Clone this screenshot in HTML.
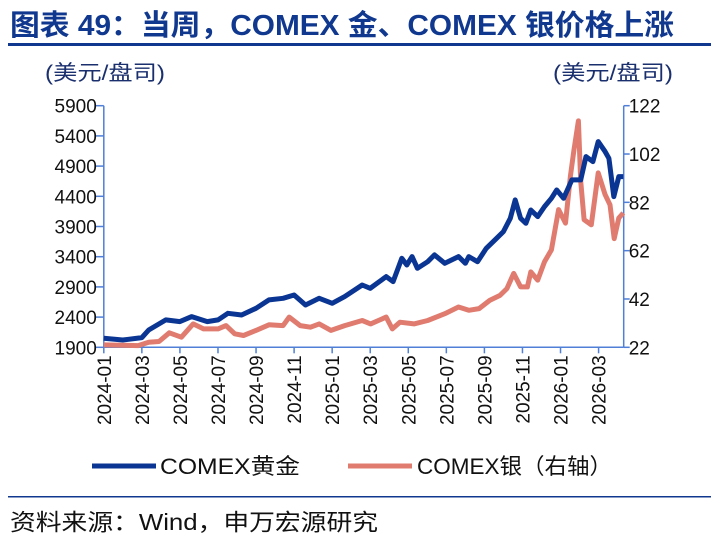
<!DOCTYPE html>
<html><head><meta charset="utf-8"><style>
body{margin:0;background:#fff;}
svg{display:block;font-family:"Liberation Sans","Noto Sans CJK SC",sans-serif;}
</style></head><body>
<svg id="c" width="720" height="541">
<text x="10" y="35" font-size="29" font-weight="bold" fill="#10388f" textLength="664" lengthAdjust="spacingAndGlyphs">图表 49：当周，COMEX 金、COMEX 银价格上涨</text>
<rect x="8" y="43" width="703" height="3" fill="#10388f"/>
<text x="45" y="80" font-size="21" fill="#1a2f6e" textLength="120" lengthAdjust="spacingAndGlyphs">(美元/盘司)</text>
<text x="553" y="80" font-size="21" fill="#1a2f6e" textLength="120" lengthAdjust="spacingAndGlyphs">(美元/盘司)</text>
<g id="axes"></g>
<g id="series"></g>
<g>
<line x1="92" y1="466" x2="156" y2="466" stroke="#0b3593" stroke-width="5"/>
<text x="160" y="474" font-size="22" fill="#111" textLength="140" lengthAdjust="spacingAndGlyphs">COMEX黄金</text>
<line x1="348" y1="466" x2="412" y2="466" stroke="#e07b6f" stroke-width="5"/>
<text x="417" y="474" font-size="22" fill="#111" textLength="195" lengthAdjust="spacingAndGlyphs">COMEX银（右轴）</text>
</g>
<rect x="8" y="496" width="703" height="1.5" fill="#10388f"/>
<text x="10" y="530" font-size="23" fill="#111" textLength="368" lengthAdjust="spacingAndGlyphs">资料来源：Wind，申万宏源研究</text>
</svg>
<script>
const xTickLabels=["2024-01","2024-03","2024-05","2024-07","2024-09","2024-11","2025-01","2025-03","2025-05","2025-07","2025-09","2025-11","2026-01","2026-03"];
const leftTicks=[1900,2400,2900,3400,3900,4400,4900,5400,5900];
const rightTicks=[22,42,62,82,102,122];
// months since 2024-01
const goldT=[0,0.5,1,1.18,1.63,2,2.31,2.72,3,3.26,3.62,4,4.34,4.71,5,5.3,5.66,6,6.33,6.79,7,7.42,7.6,7.83,7.96,8.1,8.24,8.51,8.69,8.96,9.32,9.5,9.59,9.82,10.05,10.32,10.5,10.68,10.81,10.95,11.09,11.22,11.4,11.58,11.76,11.9,12.08,12.3,12.53,12.67,12.85,12.99,13.17,13.27,13.4,13.53,13.65];
const goldV=[2049,2021,2060,2187,2353,2325,2408,2325,2353,2463,2435,2546,2684,2712,2766,2601,2712,2628,2739,2932,2877,3070,2987,3373,3263,3401,3208,3318,3429,3291,3401,3291,3401,3318,3539,3705,3815,4036,4340,4036,3953,4174,4064,4229,4367,4505,4367,4671,4671,5057,4974,5305,5140,5029,4395,4726,4726];
const silverT=[0,0.9,1.18,1.45,1.72,2.04,2.35,2.62,3,3.21,3.44,3.67,4,4.34,4.71,4.87,5.16,5.43,5.66,5.97,6.33,6.79,7.01,7.42,7.58,7.78,8.15,8.51,8.96,9.32,9.59,9.86,10.14,10.41,10.59,10.77,10.95,11.13,11.22,11.4,11.58,11.76,11.95,12.13,12.26,12.35,12.47,12.53,12.62,12.81,12.99,13.17,13.3,13.41,13.53,13.65];
const silverV=[23,22.7,24.1,24.4,28,26.2,31.7,29.6,29.6,31,27.6,26.9,29,31.3,31,34.5,31,30.3,31.7,29,31,33.1,31.7,34.5,29.6,32.4,31.7,33.1,35.9,38.7,37.3,38,41.4,43.5,46.3,52.6,47,47,53.2,49.8,57.4,62.3,79,73.4,92.8,103.2,115.7,90.8,74.8,72.7,94.2,85.2,81,67,75.5,77.6];

const NS="http://www.w3.org/2000/svg";
const X0=103.8,X1=623.7,Y0=347.3,Y1=105.7,MW=19.03;
const xs=t=>X0+t*2*MW;
const yl=v=>Y0-(v-1900)/4000*(Y0-Y1);
const yr=v=>Y0-(v-22)/100*(Y0-Y1);
const ax=document.getElementById('axes'),se=document.getElementById('series');
function mk(tag,a,p){const e=document.createElementNS(NS,tag);for(const k in a)e.setAttribute(k,a[k]);p.appendChild(e);return e;}
const AC="#4f7fd6";
let e;
e=mk('line',{x1:X0,y1:Y1,x2:X0,y2:Y0,stroke:AC,'stroke-width':1.5},ax);


e=mk('line',{x1:X1,y1:Y1,x2:X1,y2:Y0,stroke:AC,'stroke-width':1.5},ax);


e=mk('line',{x1:X0,y1:Y0,x2:X1,y2:Y0,stroke:AC,'stroke-width':1.5},ax);


leftTicks.forEach(v=>{const y=yl(v);
 mk('line',{x1:X0-8,y1:y,x2:X0,y2:y,stroke:AC,'stroke-width':1.5},ax);
 e=mk('text',{x:X0-7,y:y+7,'font-size':19,'text-anchor':'end',fill:'#111'},ax);e.textContent=v;
 
 });
rightTicks.forEach(v=>{const y=yr(v);
 mk('line',{x1:X1,y1:y,x2:X1+6,y2:y,stroke:AC,'stroke-width':1.5},ax);
 e=mk('text',{x:X1+5,y:y+7,'font-size':19,fill:'#111'},ax);e.textContent=v;
 
 });
xTickLabels.forEach((s,i)=>{const x=xs(i);
 mk('line',{x1:x,y1:Y0,x2:x,y2:Y0+6,stroke:AC,'stroke-width':1.5},ax);
 e=mk('text',{x:0,y:0,'font-size':19,'text-anchor':'end',fill:'#111',transform:`translate(${x+7},${Y0+8}) rotate(-90)`},ax);e.textContent=s;
 
 });
function path(T,V,f){return T.map((t,i)=>(i?'L':'M')+xs(t).toFixed(1)+' '+f(V[i]).toFixed(1)).join(' ');}
e=mk('path',{d:path(silverT,silverV,yr),fill:'none',stroke:'#e07b6f','stroke-width':5,'stroke-linejoin':'round'},se);


e=mk('path',{d:path(goldT,goldV,yl),fill:'none',stroke:'#0b3593','stroke-width':5,'stroke-linejoin':'round'},se);


</script>
</body></html>
